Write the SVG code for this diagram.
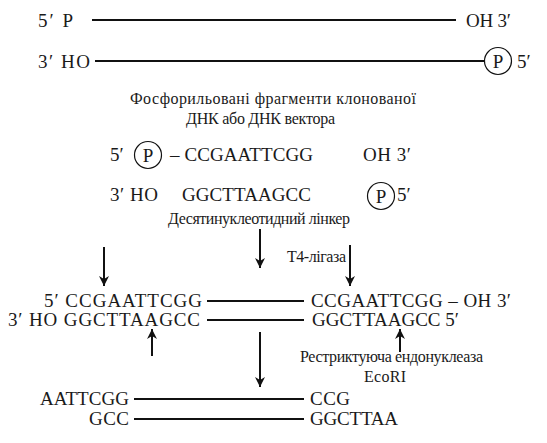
<svg xmlns="http://www.w3.org/2000/svg" width="547" height="443" viewBox="0 0 547 443">
<style>
.ln{stroke:#111;stroke-width:2.2;fill:none}
.ar{stroke:#111;stroke-width:2;fill:none}
.ci{stroke:#111;stroke-width:1.2;fill:none}
</style>
<defs>
<marker id="ah" viewBox="0 0 10 16" refX="10" refY="8" markerWidth="10" markerHeight="16" markerUnits="userSpaceOnUse" orient="auto">
<path d="M0,3 L10,8 L0,13 L3,8 Z" fill="#111"/>
</marker>
</defs>
<g id="fragment-top">
<text font-family="Liberation Serif" font-size="19" fill="#1a1a1a" x="38" y="27" textLength="35" lengthAdjust="spacing">5′ P</text>
<line class="ln" x1="92" y1="20" x2="456" y2="20"/>
<text font-family="Liberation Serif" font-size="19" fill="#1a1a1a" x="466" y="27" textLength="45" lengthAdjust="spacing">OH 3′</text>
</g>
<g id="fragment-bottom">
<text font-family="Liberation Serif" font-size="19" fill="#1a1a1a" x="38" y="68" textLength="52" lengthAdjust="spacing">3′ HO</text>
<line class="ln" x1="95" y1="61" x2="484" y2="61"/>
<circle class="ci" cx="498" cy="61" r="13.5"/>
<text font-family="Liberation Serif" font-size="19" fill="#1a1a1a" x="498" y="68" text-anchor="middle">P</text>
<text font-family="Liberation Serif" font-size="19" fill="#1a1a1a" x="517" y="68">5′</text>
</g>
<g id="caption1">
<text font-family="Liberation Serif" font-size="16" fill="#1a1a1a" x="130" y="104" textLength="286" lengthAdjust="spacing">Фосфорильовані фрагменти клонованої</text>
<text font-family="Liberation Serif" font-size="16" fill="#1a1a1a" x="186" y="124" textLength="149" lengthAdjust="spacing">ДНК або ДНК вектора</text>
</g>
<g id="linker">
<text font-family="Liberation Serif" font-size="19" fill="#1a1a1a" x="110" y="161">5′</text>
<circle class="ci" cx="148" cy="155" r="13.5"/>
<text font-family="Liberation Serif" font-size="19" fill="#1a1a1a" x="148" y="162" text-anchor="middle">P</text>
<text font-family="Liberation Serif" font-size="19" fill="#1a1a1a" x="170" y="161" textLength="143" lengthAdjust="spacing">– CCGAATTCGG</text>
<text font-family="Liberation Serif" font-size="19" fill="#1a1a1a" x="363" y="161" textLength="48" lengthAdjust="spacing">OH 3′</text>
<text font-family="Liberation Serif" font-size="19" fill="#1a1a1a" x="110" y="201" textLength="48" lengthAdjust="spacing">3′ HO</text>
<text font-family="Liberation Serif" font-size="19" fill="#1a1a1a" x="182" y="201" textLength="129" lengthAdjust="spacing">GGCTTAAGCC</text>
<circle class="ci" cx="381" cy="196" r="13.5"/>
<text font-family="Liberation Serif" font-size="19" fill="#1a1a1a" x="381" y="203" text-anchor="middle">P</text>
<text font-family="Liberation Serif" font-size="19" fill="#1a1a1a" x="397" y="201">5′</text>
<text font-family="Liberation Serif" font-size="16" fill="#1a1a1a" x="168" y="224" textLength="182" lengthAdjust="spacing">Десятинуклеотидний лінкер</text>
</g>
<g id="ligase-label">
<text font-family="Liberation Serif" font-size="16" fill="#1a1a1a" x="287" y="262" textLength="59" lengthAdjust="spacing">Т4-лігаза</text>
</g>
<g id="ligated">
<text font-family="Liberation Serif" font-size="19" fill="#1a1a1a" x="44" y="307" textLength="158" lengthAdjust="spacing">5′ CCGAATTCGG</text>
<line class="ln" x1="207" y1="301" x2="304" y2="301"/>
<text font-family="Liberation Serif" font-size="19" fill="#1a1a1a" x="311" y="307" textLength="200" lengthAdjust="spacing">CCGAATTCGG – OH 3′</text>
<text font-family="Liberation Serif" font-size="19" fill="#1a1a1a" x="8" y="326" textLength="192" lengthAdjust="spacing">3′ HO GGCTTAAGCC</text>
<line class="ln" x1="207" y1="320" x2="304" y2="320"/>
<text font-family="Liberation Serif" font-size="19" fill="#1a1a1a" x="312" y="326" textLength="147" lengthAdjust="spacing">GGCTTAAGCC 5′</text>
</g>
<g id="enzyme-label">
<text font-family="Liberation Serif" font-size="16" fill="#1a1a1a" x="300" y="362" textLength="183" lengthAdjust="spacing">Рестриктуюча ендонуклеаза</text>
<text font-family="Liberation Serif" font-size="16" fill="#1a1a1a" x="364" y="382" textLength="42" lengthAdjust="spacing">EcoRI</text>
</g>
<g id="cut">
<text font-family="Liberation Serif" font-size="19" fill="#1a1a1a" x="40" y="405" textLength="89" lengthAdjust="spacing">AATTCGG</text>
<line class="ln" x1="134" y1="399" x2="304" y2="399"/>
<text font-family="Liberation Serif" font-size="19" fill="#1a1a1a" x="310" y="405" textLength="40" lengthAdjust="spacing">CCG</text>
<text font-family="Liberation Serif" font-size="19" fill="#1a1a1a" x="89" y="425" textLength="40" lengthAdjust="spacing">GCC</text>
<line class="ln" x1="134" y1="419" x2="304" y2="419"/>
<text font-family="Liberation Serif" font-size="19" fill="#1a1a1a" x="310" y="425" textLength="88" lengthAdjust="spacing">GGCTTAA</text>
</g>
<g id="connectors">
<line class="ar" x1="104" y1="247" x2="104" y2="286" marker-end="url(#ah)"/>
<line class="ar" x1="260" y1="229" x2="260" y2="268" marker-end="url(#ah)"/>
<line class="ar" x1="350" y1="245" x2="350" y2="286" marker-end="url(#ah)"/>
<line class="ar" x1="152" y1="356" x2="152" y2="329" marker-end="url(#ah)"/>
<line class="ar" x1="400" y1="352" x2="400" y2="329" marker-end="url(#ah)"/>
<line class="ar" x1="260" y1="332" x2="260" y2="387" marker-end="url(#ah)"/>
</g>
</svg>
